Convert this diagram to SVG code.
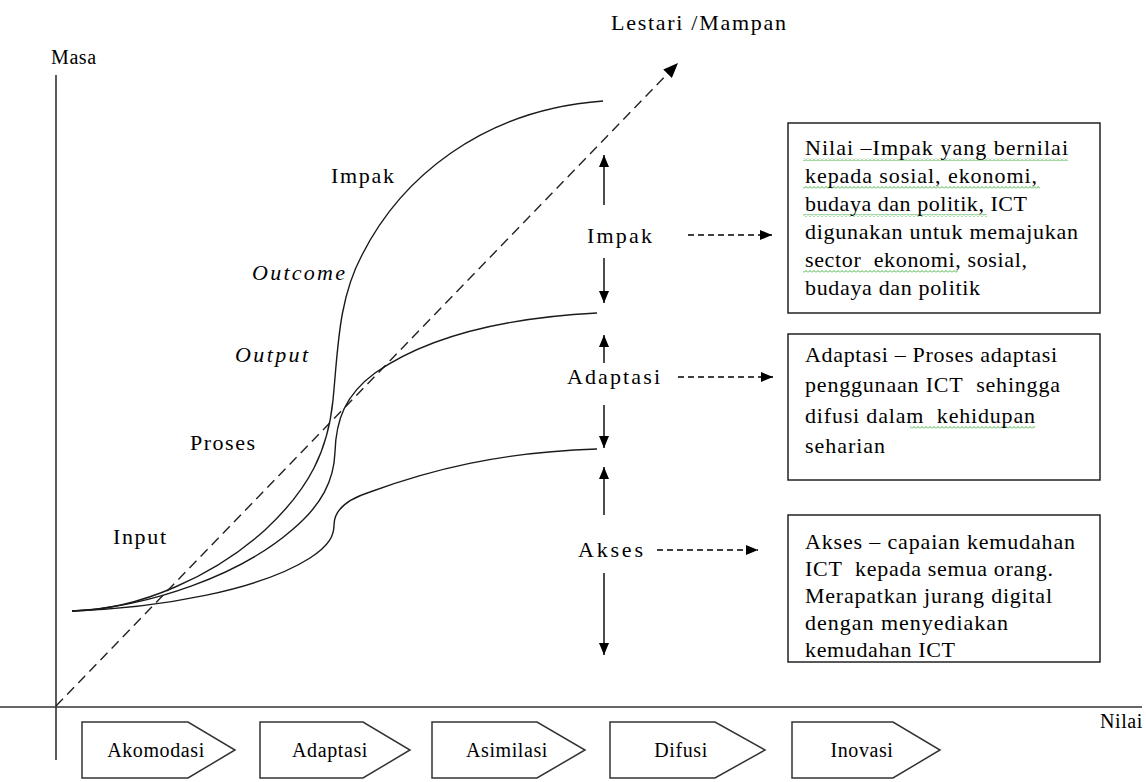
<svg xmlns="http://www.w3.org/2000/svg" width="1146" height="782" viewBox="0 0 1146 782">
<style>
text{font-family:"Liberation Serif","Times New Roman",serif;font-size:22px;fill:#000}
.sm{font-size:20px;letter-spacing:0.6px}
.it{font-style:italic}
.curve{fill:none;stroke:#1a1a1a;stroke-width:1.4}
.axis{stroke:#333;stroke-width:1.6;fill:none}
.solid{stroke:#000;stroke-width:1.4;fill:none;marker-end:url(#ah)}
.dash{stroke:#000;stroke-width:1.4;fill:none;stroke-dasharray:6 4;marker-end:url(#ah)}
.diag{stroke:#222;stroke-width:1.4;fill:none;stroke-dasharray:10 6;marker-end:url(#ahb)}
.box{fill:#fff;stroke:#222;stroke-width:1.5}
.chev{fill:#fff;stroke:#333;stroke-width:1.5}
.sq{fill:url(#wave)}
</style>
<defs>
<marker id="ah" viewBox="0 0 12 10" refX="12" refY="5" markerWidth="12" markerHeight="10" markerUnits="userSpaceOnUse" orient="auto"><path d="M0,0 L12,5 L0,10 z" fill="#000"/></marker>
<marker id="ahb" viewBox="0 0 15 12" refX="15" refY="6" markerWidth="15" markerHeight="12" markerUnits="userSpaceOnUse" orient="auto"><path d="M0,0 L15,6 L0,12 z" fill="#000"/></marker>
<pattern id="wave" width="4" height="3" patternUnits="userSpaceOnUse"><path d="M0,2.5 L2,0.5 L4,2.5" fill="none" stroke="#3a3" stroke-width="0.9"/></pattern>
</defs>

<g id="axes">
<line class="axis" x1="56" y1="75" x2="56" y2="760"/>
<line class="axis" x1="0" y1="707" x2="1142" y2="707"/>
<text class="sm" x="51" y="64">Masa</text>
<text class="sm" x="1100" y="728">Nilai</text>
</g>

<g id="connectors">
<line class="diag" x1="56" y1="706" x2="678" y2="63"/>
<path class="curve" d="M72,611 C140,610 215,575 265,530 C310,488 328,450 333,400 C338,350 338,300 362,255 C400,180 480,110 603,101"/>
<path class="curve" d="M72,611 C150,607 240,575 292,530 C322,505 334,480 335,452 C336,420 345,395 375,373 C425,338 500,318 597,313"/>
<path class="curve" d="M72,611 C160,608 260,590 310,558 C330,545 334,535 334,525 C334,512 345,500 370,492 C430,470 500,452 597,449"/>
<line class="solid" x1="604" y1="205" x2="604" y2="155"/>
<line class="solid" x1="604" y1="258" x2="604" y2="303"/>
<line class="solid" x1="604" y1="363" x2="604" y2="335"/>
<line class="solid" x1="604" y1="405" x2="604" y2="448"/>
<line class="solid" x1="604" y1="515" x2="604" y2="467"/>
<line class="solid" x1="604" y1="573" x2="604" y2="655"/>
<line class="dash" x1="688" y1="235" x2="772" y2="235"/>
<line class="dash" x1="678" y1="377" x2="773" y2="377"/>
<line class="dash" x1="657" y1="550" x2="758" y2="550"/>
</g>

<g id="lestari"><text x="611" y="30" textLength="175" lengthAdjust="spacing">Lestari /Mampan</text></g>

<g id="curve-labels">
<text x="331" y="183" textLength="63" lengthAdjust="spacing">Impak</text>
<text class="it" x="252" y="280" textLength="93" lengthAdjust="spacing">Outcome</text>
<text class="it" x="235" y="362" textLength="73" lengthAdjust="spacing">Output</text>
<text x="190" y="450" textLength="65" lengthAdjust="spacing">Proses</text>
<text x="113" y="544" textLength="53" lengthAdjust="spacing">Input</text>
</g>

<g id="stage-impak"><text x="587" y="243" textLength="65" lengthAdjust="spacing">Impak</text></g>
<g id="stage-adaptasi"><text x="567" y="384" textLength="93" lengthAdjust="spacing">Adaptasi</text></g>
<g id="stage-akses"><text x="578" y="557" textLength="65" lengthAdjust="spacing">Akses</text></g>

<g id="box-impak">
<rect class="box" x="788" y="123" width="312" height="190"/>
<rect class="sq" x="803" y="158" width="265" height="3"/>
<rect class="sq" x="803" y="186" width="237" height="3"/>
<rect class="sq" x="803" y="214" width="184" height="3"/>
<rect class="sq" x="803" y="270" width="155" height="3"/>
<text x="805" y="155" textLength="263" lengthAdjust="spacing">Nilai –Impak yang bernilai</text>
<text x="805" y="183" textLength="232" lengthAdjust="spacing">kepada sosial, ekonomi,</text>
<text x="805" y="211" textLength="222" lengthAdjust="spacing">budaya dan politik, ICT</text>
<text x="805" y="239" textLength="273" lengthAdjust="spacing">digunakan untuk memajukan</text>
<text x="805" y="267" textLength="222" lengthAdjust="spacing">sector&#160; ekonomi, sosial,</text>
<text x="805" y="295" textLength="175" lengthAdjust="spacing">budaya dan politik</text>
</g>

<g id="box-adaptasi">
<rect class="box" x="788" y="334" width="312" height="146"/>
<rect class="sq" x="910" y="426" width="125" height="3"/>
<text x="805" y="362" textLength="252" lengthAdjust="spacing">Adaptasi – Proses adaptasi</text>
<text x="805" y="392" textLength="255" lengthAdjust="spacing">penggunaan ICT&#160; sehingga</text>
<text x="805" y="423" textLength="230" lengthAdjust="spacing">difusi dalam&#160; kehidupan</text>
<text x="805" y="453" textLength="80" lengthAdjust="spacing">seharian</text>
</g>

<g id="box-akses">
<rect class="box" x="788" y="515" width="312" height="147"/>
<text x="805" y="549" textLength="270" lengthAdjust="spacing">Akses – capaian kemudahan</text>
<text x="805" y="576" textLength="248" lengthAdjust="spacing">ICT&#160; kepada semua orang.</text>
<text x="805" y="603" textLength="247" lengthAdjust="spacing">Merapatkan jurang digital</text>
<text x="805" y="630" textLength="203" lengthAdjust="spacing">dengan menyediakan</text>
<text x="805" y="657" textLength="150" lengthAdjust="spacing">kemudahan ICT</text>
</g>

<g id="chev-akomodasi">
<polygon class="chev" points="82,722 188,722 235,750 188,778 82,778"/>
<text class="sm" x="156" y="757" text-anchor="middle">Akomodasi</text>
</g>
<g id="chev-adaptasi">
<polygon class="chev" points="260,722 363,722 410,750 363,778 260,778"/>
<text class="sm" x="330" y="757" text-anchor="middle">Adaptasi</text>
</g>
<g id="chev-asimilasi">
<polygon class="chev" points="432,722 537,722 585,750 537,778 432,778"/>
<text class="sm" x="507" y="757" text-anchor="middle">Asimilasi</text>
</g>
<g id="chev-difusi">
<polygon class="chev" points="610,722 715,722 765,750 715,778 610,778"/>
<text class="sm" x="681" y="757" text-anchor="middle">Difusi</text>
</g>
<g id="chev-inovasi">
<polygon class="chev" points="792,722 893,722 940,750 893,778 792,778"/>
<text class="sm" x="862" y="757" text-anchor="middle">Inovasi</text>
</g>
</svg>
